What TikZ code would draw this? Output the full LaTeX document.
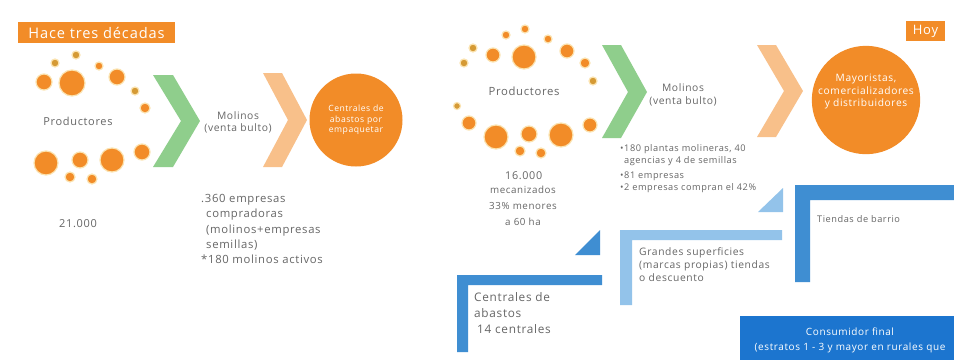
\documentclass[tikz,border=0pt]{standalone}
\usepackage{fontspec}
\setmainfont{Open Sans}[LetterSpace=6]
\definecolor{orng}{HTML}{F28C28}
\definecolor{peach}{HTML}{F8C08A}
\definecolor{grn}{HTML}{8FCE8C}
\definecolor{olive}{HTML}{D59A35}
\definecolor{halo}{HTML}{FBE3B0}
\definecolor{mblue}{HTML}{3F8ED2}
\definecolor{lblue}{HTML}{93C3EA}
\definecolor{dblue}{HTML}{1C75CF}
\definecolor{txtg}{HTML}{666666}
\tikzset{
  lbl/.style={text=txtg, inner sep=0pt, align=center},
  tag/.style={fill=orng, text=white, inner sep=0pt},
  bigcirc/.style={circle, fill=orng, text=white, inner sep=0pt, align=center},
  dot/.style={fill=orng, draw=halo, line width=1.2pt},
  odot/.style={fill=olive, draw=halo, line width=1.2pt},
  chevg/.style={fill=grn},
  chevp/.style={fill=peach},
}
\newcommand{\fs}[2]{\fontsize{#1}{#2}\selectfont}
\begin{document}
\begin{tikzpicture}[x=1pt,y=-1pt]
\useasboundingbox (0,0) rectangle (954,360);
\fill[white] (0,0) rectangle (954,360);

% ---------- Hace tres decadas ----------
\node[tag, minimum width=157pt, minimum height=21pt, font=\fs{14.6}{16}] (past) at (96.5,32.5) {Hace tres décadas};

% left cluster
\foreach \x/\y/\r in {99/66/4, 72/83/13, 44/82/8, 117/77/8, 145/108/5,
  142/152/8, 112/160/12, 80/160/8, 46/163/12, 70/177/5, 92/179/5}
  \filldraw[dot] (\x,\y) circle[radius=\r pt];
\foreach \x/\y/\r in {76/55/4, 55/63/4, 135/91/4}
  \filldraw[odot] (\x,\y) circle[radius=\r pt];
\node[lbl, font=\fs{11}{12}] (prodL) at (78,121) {Productores};
\node[lbl, font=\fs{11}{12}] (numL) at (78,224) {21.000};

% left chevrons
\fill[chevg] (153,75) -- (173,75) -- (200,121) -- (173,167) -- (153,167) -- (181,121) -- cycle;
\node[lbl, font=\fs{10.3}{12}] (molL) at (238,122) {Molinos\\(venta bulto)};
\fill[chevp] (263,73) -- (282,73) -- (307,120) -- (282,167) -- (263,167) -- (288,120) -- cycle;
\node[bigcirc, minimum size=93pt, font=\fs{8.6}{10.5}] (cabL) at (356,120) {Centrales de\\abastos por\\empaquetar};

% left list
\node[lbl, align=left, anchor=north west, font=\fs{11.3}{15.3}] (listL) at (201,194)
  {.360 empresas\\\hspace*{5pt}compradoras\\\hspace*{5pt}(molinos+empresas\\\hspace*{5pt}semillas)\\*180 molinos activos};

% ---------- Hoy ----------
\node[tag, minimum width=39pt, minimum height=20pt, font=\fs{13}{14}] (hoy) at (925.5,31) {Hoy};

% right cluster
\foreach \x/\y/\r in {525/29/4, 506/35/4, 548/39/4, 493/55/7, 524/57/12, 567/51/7,
  585/63/5, 469/123/7, 496/137/12, 529/134/8, 561/135/12, 590/125/7, 520/151/5, 541/153/5}
  \filldraw[dot] (\x,\y) circle[radius=\r pt];
\foreach \x/\y/\r in {473/48/4, 464/63/4, 593/81/4, 457/106/3.5}
  \filldraw[odot] (\x,\y) circle[radius=\r pt];
\node[lbl, font=\fs{11.3}{12}] (prodR) at (524,91) {Productores};
\node[lbl, font=\fs{10.8}{12}, anchor=west] (numR) at (505,176) {16.000};
\node[lbl, font=\fs{9.8}{16}, anchor=north] (mec) at (523,186) {mecanizados\\33\% menores\\a 60 ha};

% right chevrons
\fill[chevg] (602,45) -- (621,45) -- (647,92) -- (621,138) -- (602,138) -- (628,92) -- cycle;
\node[lbl, font=\fs{10.3}{12.5}] (molR) at (683,95) {Molinos\\(venta bulto)};
\fill[chevp] (757,45) -- (776,45) -- (803,91) -- (776,137) -- (757,137) -- (784,91) -- cycle;
\node[bigcirc, minimum size=102pt, font=\fs{10.2}{12.5}] (may) at (866,100) {Mayoristas,\\comercializadores\\y distribuidores\\[6pt]};

% right list
\node[lbl, align=left, anchor=north west, font=\fs{9.2}{12}] (listR1) at (620,144)
  {•180 plantas molineras, 40\\\hspace*{4pt}agencias y 4 de semillas};
\node[lbl, align=left, anchor=north west, font=\fs{9.2}{12}] (listR2) at (620,172)
  {•81 empresas\\•2 empresas compran el 42\%};

% blue L shapes
\fill[mblue] (457,275) -- (602,275) -- (602,285) -- (468,285) -- (468,352) -- (457,352) -- cycle;
\fill[mblue] (575,255) -- (600,255) -- (600,230) -- cycle;
\node[lbl, align=left, anchor=north west, font=\fs{11.8}{16}] (cab) at (474,292)
  {Centrales de\\abastos\\\hspace*{3pt}14 centrales};

\fill[lblue] (620,230) -- (782,230) -- (782,240) -- (632,240) -- (632,305) -- (620,305) -- cycle;
\fill[lblue] (758,212) -- (783,212) -- (783,188) -- cycle;
\node[lbl, align=left, anchor=north west, font=\fs{10.3}{13}] (gs) at (639,247)
  {Grandes superficies\\(marcas propias) tiendas\\o descuento};

\fill[mblue] (795,185) -- (954,185) -- (954,200) -- (810,200) -- (810,282) -- (795,282) -- cycle;
\node[lbl, anchor=west, font=\fs{9.2}{10}] (tb) at (817,219) {Tiendas de barrio};

% consumer box
\fill[dblue] (740,316) rectangle (954,360);
\node[lbl, text=white, font=\fs{10}{15}] (cons) at (850,340) {Consumidor final\\(estratos 1 - 3 y mayor en rurales que};
\end{tikzpicture}
\end{document}
